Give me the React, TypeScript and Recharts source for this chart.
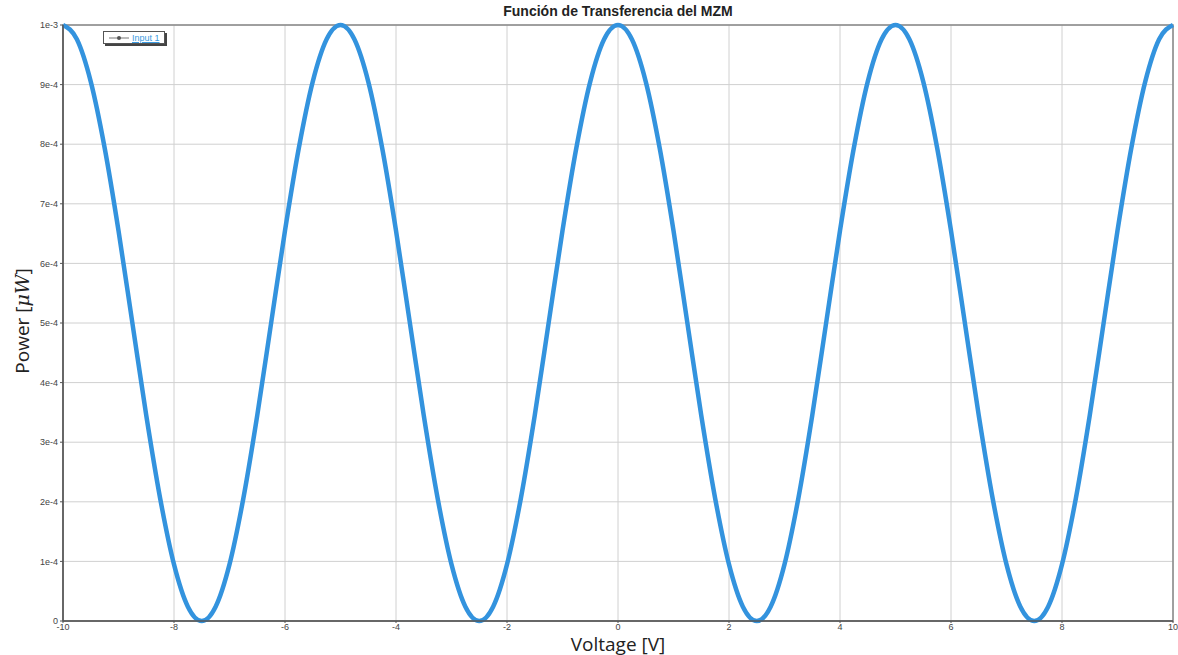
import React from 'react'
import { CartesianGrid, Line, LineChart, ReferenceArea, XAxis, YAxis } from 'recharts'

// voltage samples (V)
const voltage = [
  -10, -9.75, -9.5, -9.25, -9, -8.75, -8.5, -8.25, -8, -7.75, -7.5, -7.25, -7, -6.75, -6.5, -6.25,
  -6, -5.75, -5.5, -5.25, -5, -4.75, -4.5, -4.25, -4, -3.75, -3.5, -3.25, -3, -2.75, -2.5, -2.25,
  -2, -1.75, -1.5, -1.25, -1, -0.75, -0.5, -0.25, 0, 0.25, 0.5, 0.75, 1, 1.25, 1.5, 1.75, 2, 2.25,
  2.5, 2.75, 3, 3.25, 3.5, 3.75, 4, 4.25, 4.5, 4.75, 5, 5.25, 5.5, 5.75, 6, 6.25, 6.5, 6.75, 7,
  7.25, 7.5, 7.75, 8, 8.25, 8.5, 8.75, 9, 9.25, 9.5, 9.75, 10,
]

// power (x 1e-3)
const power = [
  1, 0.976, 0.905, 0.794, 0.655, 0.5, 0.345, 0.206, 0.095, 0.024, 0, 0.024, 0.095, 0.206, 0.345, 0.5,
  0.655, 0.794, 0.905, 0.976, 1, 0.976, 0.905, 0.794, 0.655, 0.5, 0.345, 0.206, 0.095, 0.024, 0, 0.024,
  0.095, 0.206, 0.345, 0.5, 0.655, 0.794, 0.905, 0.976, 1, 0.976, 0.905, 0.794, 0.655, 0.5, 0.345,
  0.206, 0.095, 0.024, 0, 0.024, 0.095, 0.206, 0.345, 0.5, 0.655, 0.794, 0.905, 0.976, 1, 0.976,
  0.905, 0.794, 0.655, 0.5, 0.345, 0.206, 0.095, 0.024, 0, 0.024, 0.095, 0.206, 0.345, 0.5, 0.655,
  0.794, 0.905, 0.976, 1,
]

const xTicks = [-10, -8, -6, -4, -2, 0, 2, 4, 6, 8, 10]
const yTicks = [0, 0.1, 0.2, 0.3, 0.4, 0.5, 0.6, 0.7, 0.8, 0.9, 1]
const yTickLabels = ['0', '1e-4', '2e-4', '3e-4', '4e-4', '5e-4', '6e-4', '7e-4', '8e-4', '9e-4', '1e-3']

const data = voltage.map((v, i) => ({ v, p: power[i] }))

const tickStyle = { fontSize: 9, fill: '#444', fontFamily: 'Liberation Sans, Arial, sans-serif' }

const LegendBox = () => (
  <div
    style={{
      position: 'absolute',
      left: 103,
      top: 31,
      border: '1px solid #555',
      boxShadow: '2px 2px 0 #444',
      background: '#fff',
      padding: '0 4px',
      height: 11,
      display: 'flex',
      alignItems: 'center',
      fontFamily: 'Liberation Sans, Arial, sans-serif',
      fontSize: 9,
      zIndex: 2,
    }}
  >
    <svg width={22} height={8}>
      <line x1={1} y1={4} x2={21} y2={4} stroke="#777" strokeWidth={1} />
      <circle cx={11} cy={4} r={2} fill="#555" />
    </svg>
    <span style={{ color: '#3a9ae0', textDecoration: 'underline', marginLeft: 2 }}>Input 1</span>
  </div>
)

const App: React.FC = () => {
  return (
    <div style={{ position: 'absolute', left: 0, top: 0, width: 1178, height: 655, background: '#fff' }}>
      <div
        style={{
          position: 'absolute',
          top: 3,
          left: 418,
          width: 400,
          textAlign: 'center',
          fontFamily: 'Liberation Sans, Arial, sans-serif',
          fontWeight: 'bold',
          fontSize: 14,
          color: '#222',
        }}
      >
        Función de Transferencia del MZM
      </div>
      <div
        style={{
          position: 'absolute',
          top: 634,
          left: 518,
          width: 200,
          textAlign: 'center',
          fontFamily: 'Open Sans, sans-serif',
          fontSize: 19,
          lineHeight: '20px',
          color: '#222',
        }}
      >
        Voltage [V]
      </div>
      <div
        style={{
          position: 'absolute',
          top: 308,
          left: -78,
          width: 200,
          textAlign: 'center',
          transform: 'rotate(-90deg)',
          fontFamily: 'Open Sans, sans-serif',
          fontSize: 19,
          color: '#222',
          whiteSpace: 'nowrap',
        }}
      >
        Power [<i style={{ fontFamily: 'DejaVu Serif, serif' }}>μW</i>]
      </div>
      <LegendBox />
      <LineChart width={1178} height={655} data={data} margin={{ top: 25, right: 5, bottom: 0, left: 0 }}>
        <CartesianGrid stroke="#d0d0d0" horizontalValues={yTicks} verticalValues={xTicks} />
        <ReferenceArea x1={-10} x2={10} y1={0} y2={1} fill="none" stroke="#888" strokeWidth={1.5} ifOverflow="visible" />
        <XAxis
          dataKey="v"
          type="number"
          domain={[-10, 10]}
          ticks={xTicks}
          height={34}
          tick={tickStyle}
          tickSize={2}
          tickMargin={1}
          axisLine={{ stroke: '#555', strokeWidth: 1.5 }}
          tickLine={{ stroke: '#555' }}
          interval={0}
        />
        <YAxis
          type="number"
          domain={[0, 1]}
          ticks={yTicks}
          width={63}
          tick={tickStyle}
          tickSize={3}
          tickFormatter={(t: number) => yTickLabels[yTicks.indexOf(t)] ?? ''}
          axisLine={{ stroke: '#555', strokeWidth: 1.5 }}
          tickLine={{ stroke: '#555' }}
          interval={0}
        />
        <Line
          type="monotone"
          dataKey="p"
          stroke="#3393de"
          strokeWidth={4.5}
          dot={false}
          isAnimationActive={false}
        />
      </LineChart>
    </div>
  )
}

export default App
